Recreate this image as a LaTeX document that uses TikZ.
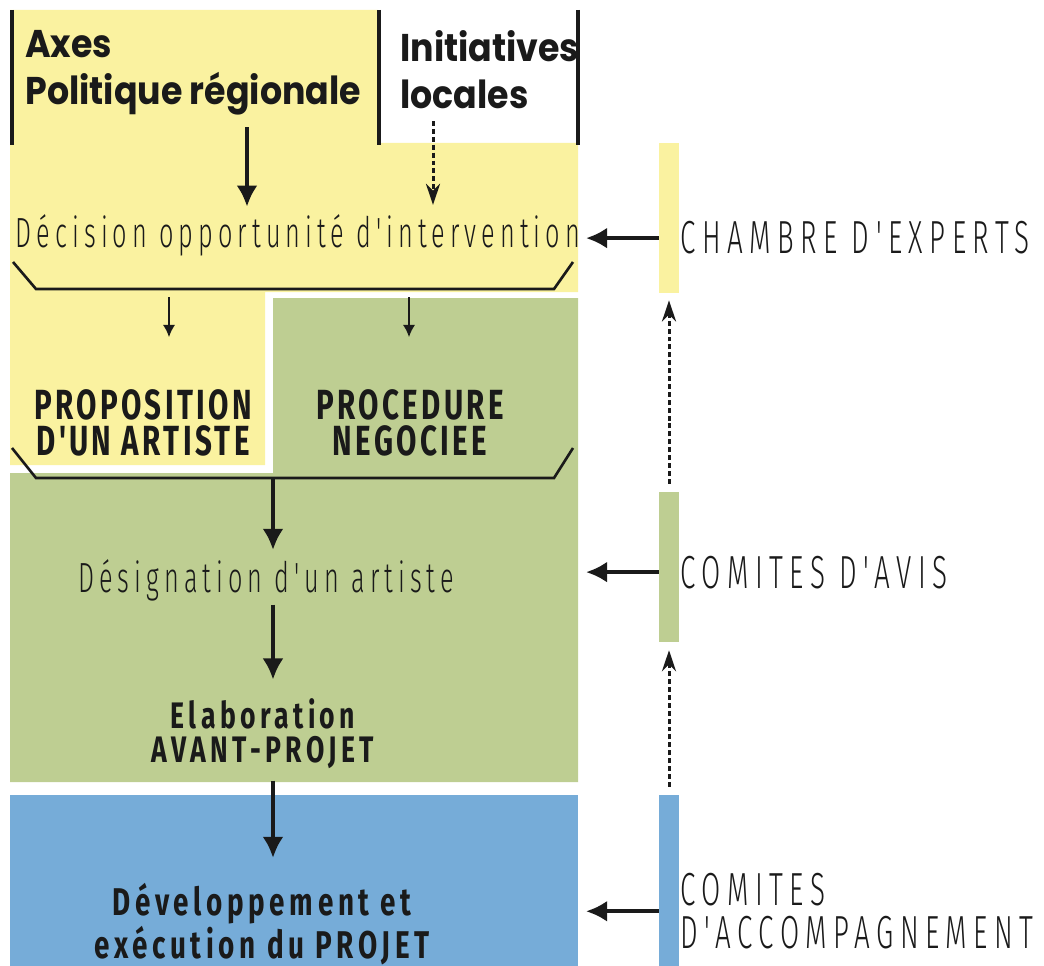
\documentclass[tikz,border=0pt]{standalone}
\usepackage{fontspec}
\usetikzlibrary{arrows.meta, positioning, calc}
\newfontfamily\headfont{Poppins}[FakeStretch=0.9]
\newfontfamily\thinfont{Fira Sans Light}[FakeStretch=0.6, LetterSpace=12, Ligatures=TeXOff]
\newfontfamily\sidefont{Fira Sans Light}[FakeStretch=0.6, LetterSpace=14, Ligatures=TeXOff]
\newfontfamily\condfont{Fira Sans}[FakeStretch=0.7, LetterSpace=8, Ligatures=TeXOff]
\newfontfamily\condwide{Fira Sans}[FakeStretch=0.72, LetterSpace=12, Ligatures=TeXOff]
\definecolor{panelYellow}{HTML}{FAF2A0}
\definecolor{panelGreen}{HTML}{BECE92}
\definecolor{panelBlue}{HTML}{76ACD8}
\definecolor{inkBlack}{HTML}{1A1A1A}
\tikzset{
  arrowK/.style={-{Latex[length=12pt, width=12pt]}, inkBlack, line width=2.3pt},
  arrowS/.style={-{Latex[length=7pt, width=7pt]}, inkBlack, line width=1.1pt},
  arrowD/.style={-{Stealth[length=12pt, width=8pt]}, inkBlack, line width=1.7pt,
                 dash pattern=on 2.8pt off 1.7pt},
  headTxt/.style={font=\headfont\bfseries\fontsize{22}{26.6}\selectfont,
                  align=left, inner sep=0pt, text=inkBlack},
  thinTxt/.style={font=\thinfont\fontsize{24}{28}\selectfont, inner sep=2pt, text=inkBlack},
  sideTxt/.style={font=\sidefont\fontsize{26.4}{24.5}\selectfont, align=left,
                  inner sep=0pt, text=inkBlack},
  stepTxt/.style={font=\condfont\bfseries\fontsize{24}{20.6}\selectfont, align=center,
                  inner sep=0pt, text=inkBlack},
  sideBar/.style={rectangle, minimum width=0.4cm, inner sep=0pt},
  brace/.style={inkBlack, line width=1.5pt},
  topBar/.style={inkBlack, line width=2.4pt},
}
\begin{document}
\begin{tikzpicture}[x=0.02cm, y=-0.02cm]
  \useasboundingbox (0,0) rectangle (1044,966);
  % panels
  \fill[panelYellow] (10,10) -- (378,10) -- (378,143) -- (578,143) -- (578,292)
    -- (265,292) -- (265,465) -- (10,465) -- cycle;
  \fill[panelGreen] (273,298) -- (578,298) -- (578,782) -- (10,782) -- (10,473)
    -- (273,473) -- cycle;
  \fill[panelBlue] (10,795) rectangle (578,966);
  \draw[topBar] (12,10) -- (12,145);
  \draw[topBar] (379,10) -- (379,145);
  \draw[topBar] (578,10) -- (578,145);

  % left column
  \node[headTxt, anchor=north west] (axes) at (25,30) {Axes\\Politique régionale};
  \node[headTxt, anchor=north west] (init) at (400,30) {Initiatives\\locales};
  \node[thinTxt, anchor=base] (decision) at (298,247) {Décision opportunité d'intervention};
  \node[stepTxt, anchor=north] (prop) at (143,389) {PROPOSITION\\D'UN ARTISTE};
  \node[stepTxt, anchor=north] (proc) at (410,389) {PROCEDURE\\NEGOCIEE};
  \node[thinTxt, anchor=base] (desig) at (266,592) {Désignation d'un artiste};
  \node[stepTxt, font=\condwide\bfseries\fontsize{21}{19.6}\selectfont, anchor=north]
    (elab) at (263,698) {Elaboration\\AVANT-PROJET};
  \node[stepTxt, font=\condwide\bfseries\fontsize{22}{22.6}\selectfont, anchor=north]
    (dev) at (262,883) {Développement et\\exécution du PROJET};

  % right column
  \node[sideBar, fill=panelYellow, minimum height=3cm] (barY) at (669,218) {};
  \node[sideBar, fill=panelGreen, minimum height=3cm] (barG) at (669,567) {};
  \node[sideBar, fill=panelBlue, minimum height=3.42cm] (barB) at (669,880.5) {};
  \node[sideTxt, anchor=base west] (chambre) at (680,254) {CHAMBRE D'EXPERTS};
  \node[sideTxt, anchor=base west] (avis) at (680,588) {COMITES D'AVIS};
  \node[sideTxt, anchor=north west] (accomp) at (680,873) {COMITES\\D'ACCOMPAGNEMENT};

  \coordinate (colA) at (247,0);
  \coordinate (colB) at (433,0);
  \coordinate (colM) at (273,0);
  \coordinate (panelE) at (586,0);
  \coordinate (forkL) at (169,297);
  \coordinate (forkR) at (409,297);

  % brackets
  \draw[brace] (13,262) -- (36,289) -- (554,289) -- (573,262);
  \draw[brace] (12,448) -- (36,478) -- (554,478) -- (573,448);

  % arrows
  \draw[arrowK, shorten <=7pt, shorten >=2pt] (axes.south -| colA) -- (decision.north -| colA);
  \draw[arrowD, shorten <=7pt, shorten >=3pt] (init.south -| colB) -- (decision.north -| colB);
  \draw[arrowS, shorten >=29.5pt] (forkL) -- (forkL |- prop.north);
  \draw[arrowS, shorten >=29.5pt] (forkR) -- (forkR |- proc.north);
  \draw[arrowK, shorten >=3pt] (colM |- 0,478) -- (colM |- desig.north);
  \draw[arrowK, shorten >=10.5pt] (desig.south -| colM) -- (elab.north -| colM);
  \draw[arrowK, shorten <=6.5pt, shorten >=14.3pt] (elab.south -| colM) -- (dev.north -| colM);
  \draw[arrowK] (barY.west |- chambre.west) -- (panelE |- chambre.west);
  \draw[arrowK] (barG.west |- avis.west) -- (panelE |- avis.west);
  \draw[arrowK] (barB.west |- accomp.west) -- (panelE |- accomp.west);
  \draw[arrowD, shorten <=4.5pt, shorten >=4pt] (barG.north) -- (barY.south);
  \draw[arrowD, shorten <=4.5pt, shorten >=4.5pt] (barB.north) -- (barG.south);
\end{tikzpicture}
\end{document}
